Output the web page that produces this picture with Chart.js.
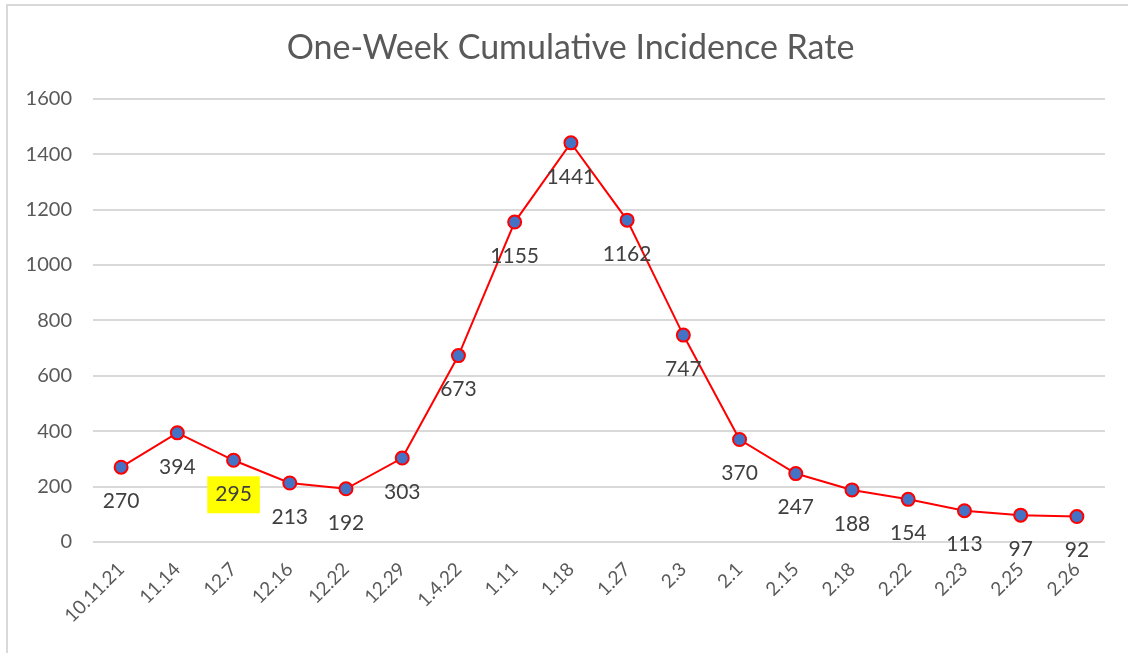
<!DOCTYPE html>
<html>
<head>
<meta charset="utf-8">
<script src="https://cdn.jsdelivr.net/npm/chart.js@4"></script>
<style>
  html, body { margin: 0; padding: 0; background: #fff; }
  #wrap { position: relative; width: 1128px; height: 653px; overflow: hidden; }
  #frame { position: absolute; left: 6px; top: 4px; width: 1200px; height: 700px;
           border-left: 2px solid #d9d9d9; border-top: 2px solid #d9d9d9; }
  canvas { position: absolute; left: 0; top: 0; }
</style>
</head>
<body>
<div id="wrap">
  <div id="frame"></div>
  <canvas id="rateChart" width="1128" height="653"></canvas>
</div>
<script>
const dates = ['10.11.21', '11.14', '12.7', '12.16', '12.22', '12.29', '1.4.22', '1.11', '1.18',
               '1.27', '2.3', '2.1', '2.15', '2.18', '2.22', '2.23', '2.25', '2.26'];
const rates = [270, 394, 295, 213, 192, 303, 673, 1155, 1441, 1162, 747, 370, 247, 188, 154, 113, 97, 92];
const highlighted = ['12.7'];   // label shown with yellow marker

const fontFam = 'Lato, "Open Sans", sans-serif';

// draws value labels under each point, like excel "below" position
const valueLabels = {
    id: 'valueLabels',
    afterDatasetsDraw(chart) {
        const c = chart.ctx;
        const meta = chart.getDatasetMeta(0);
        c.save();
        c.font = '21px ' + fontFam;
        c.textAlign = 'center';
        c.textBaseline = 'middle';
        meta.data.forEach((pt, i) => {
            const txt = String(rates[i]);
            const x = pt.x, y = pt.y + 34;
            if (highlighted.includes(dates[i])) {
                const w = c.measureText(txt).width + 16;
                c.fillStyle = '#ffff00';
                c.fillRect(x - w / 2, y - 18, w, 37);
            }
            c.fillStyle = '#404040';
            c.fillText(txt, x, y);
        });
        c.restore();
    }
};

new Chart(document.getElementById('rateChart'), {
    type: 'line',
    data: {
        labels: dates,
        datasets: [{
            label: 'One-Week Cumulative Incidence Rate',
            data: rates,
            borderColor: '#ff0000',
            borderWidth: 2,
            pointBackgroundColor: '#4472c4',
            pointBorderColor: '#ff0000',
            pointBorderWidth: 2,
            pointRadius: 6.5,
            tension: 0
        }]
    },
    options: {
        responsive: false,
        animation: false,
        layout: { padding: { left: 18, right: 5, top: 0, bottom: 0 } },
        plugins: {
            legend: { display: false },
            tooltip: { enabled: false },
            title: {
                display: true,
                text: 'One-Week Cumulative Incidence Rate',
                color: '#595959',
                font: { family: fontFam, size: 34, weight: 'normal' },
                padding: { top: 28, bottom: 30 }
            }
        },
        scales: {
            x: {
                offset: true,
                grid: { display: false },
                border: { display: false },
                ticks: {
                    color: '#595959',
                    font: { family: fontFam, size: 19 },
                    maxRotation: 45, minRotation: 45,
                    padding: 8
                },
                afterFit(s) { s.height = 111; }
            },
            y: {
                min: 0, max: 1600,
                grid: { color: '#d9d9d9', lineWidth: 2, drawTicks: false },
                border: { display: false },
                ticks: {
                    stepSize: 200,
                    color: '#595959',
                    font: { family: fontFam, size: 20 },
                    padding: 21,
                    callback: v => String(v)
                },
                afterFit(s) { s.width = 75; }
            },
            // empty right side spacer so the plot stops short of the edge
            yRight: {
                position: 'right',
                grid: { display: false },
                border: { display: false },
                ticks: { display: false },
                afterFit(s) { s.width = 18; }
            }
        }
    },
    plugins: [valueLabels]
});
</script>
</body>
</html>
